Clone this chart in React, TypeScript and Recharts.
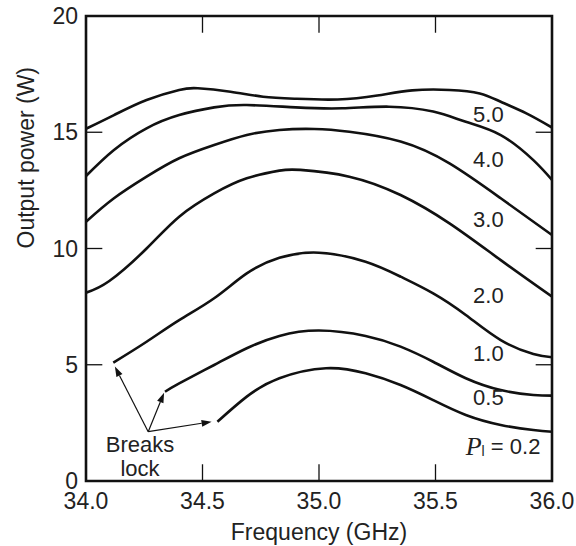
import React from 'react'
import { LineChart, Line, XAxis, YAxis, ReferenceArea, ReferenceLine, ReferenceDot } from 'recharts'

document.body.style.margin = '0'

const font = '"Liberation Sans", Arial, Helvetica, sans-serif'
const ink = '#111'

const freqTicks = [34.0, 34.5, 35.0, 35.5, 36.0]
const powerTicks = [0, 5, 10, 15, 20]

// curves, one per drive level P_l
const f50 = [34.0, 34.12, 34.26, 34.4, 34.48, 34.62, 34.76, 34.9, 35.08, 35.25, 35.4, 35.56, 35.69, 35.78, 35.89, 36.0]
const p50 = [15.15, 15.74, 16.39, 16.82, 16.89, 16.74, 16.53, 16.44, 16.41, 16.58, 16.8, 16.82, 16.67, 16.31, 15.81, 15.2]

const f40 = [34.0, 34.12, 34.26, 34.4, 34.55, 34.69, 34.9, 35.1, 35.3, 35.49, 35.63, 35.78, 35.92, 36.0]
const p40 = [13.12, 14.24, 15.17, 15.74, 16.07, 16.17, 16.07, 16.03, 16.1, 15.89, 15.45, 14.88, 13.8, 12.95]

const f30 = [34.0, 34.12, 34.26, 34.4, 34.55, 34.69, 34.83, 34.98, 35.13, 35.35, 35.56, 35.78, 36.0]
const p30 = [11.15, 12.16, 13.09, 13.88, 14.45, 14.88, 15.1, 15.14, 15.02, 14.6, 13.66, 12.16, 10.58]

const f20 = [34.0, 34.1, 34.26, 34.4, 34.55, 34.69, 34.83, 34.92, 35.13, 35.35, 35.56, 35.78, 36.0]
const p20 = [8.1, 8.6, 10.0, 11.37, 12.37, 13.02, 13.35, 13.38, 13.09, 12.3, 11.08, 9.5, 7.93]

const f10 = [34.117, 34.26, 34.4, 34.55, 34.69, 34.83, 35.0, 35.2, 35.35, 35.49, 35.63, 35.78, 35.92, 36.0]
const p10 = [5.09, 5.99, 6.92, 7.86, 8.93, 9.6, 9.82, 9.43, 8.79, 8.07, 7.14, 6.06, 5.46, 5.32]

const f05 = [34.339, 34.4, 34.55, 34.69, 34.83, 35.0, 35.2, 35.35, 35.49, 35.63, 35.78, 35.92, 36.0]
const p05 = [3.84, 4.2, 4.99, 5.71, 6.24, 6.47, 6.24, 5.78, 5.13, 4.42, 3.91, 3.7, 3.67]

const f02 = [34.564, 34.69, 34.83, 35.03, 35.2, 35.35, 35.49, 35.63, 35.78, 35.92, 36.0]
const p02 = [2.55, 3.63, 4.42, 4.85, 4.63, 4.13, 3.48, 2.84, 2.41, 2.19, 2.12]

const curveX = [f50, f40, f30, f20, f10, f05, f02]
const curveY = [p50, p40, p30, p20, p10, p05, p02]

// labels sitting under each curve at the right
const levelNames = ['5.0', '4.0', '3.0', '2.0', '1.0', '0.5']
const levelX = [35.727, 35.727, 35.727, 35.727, 35.727, 35.727]
const levelY = [15.76, 13.83, 11.25, 7.98, 5.48, 3.59]

// "Breaks lock" arrows
const arrowFrom = { f: 34.267, p: 2.12 }
const arrowTipF = [34.124, 34.335, 34.539]
const arrowTipP = [4.92, 3.8, 2.55]

const toRows = (xs: number[], ys: number[]) => xs.map((f, i) => ({ f, p: ys[i] }))

const Arrow = (props: any) => {
  const { x1, y1, x2, y2 } = props
  const ang = Math.atan2(y2 - y1, x2 - x1)
  const L = 10
  const W = 3.4
  const bx = x2 - L * Math.cos(ang)
  const by = y2 - L * Math.sin(ang)
  const px = -Math.sin(ang) * W
  const py = Math.cos(ang) * W
  return (
    <g>
      <line x1={x1} y1={y1} x2={bx} y2={by} stroke={ink} strokeWidth={1.2} />
      <polygon points={`${x2},${y2} ${bx + px},${by + py} ${bx - px},${by - py}`} fill={ink} />
    </g>
  )
}

const textShape = (txt: string, size = 22) => (props: any) => (
  <text x={props.cx} y={props.cy} textAnchor="middle" dominantBaseline="central"
    fontFamily={font} fontSize={size} fill="#222">{txt}</text>
)

const PlShape = (props: any) => (
  <text x={props.cx} y={props.cy} textAnchor="middle" dominantBaseline="central" fontFamily={font} fontSize={22} fill="#222">
    <tspan fontFamily='"Liberation Serif", "Times New Roman", serif' fontStyle="italic" fontSize={26}>P</tspan>
    <tspan fontSize={14} dy={5}>l</tspan>
    <tspan dy={-5}> = 0.2</tspan>
  </text>
)

export default function App() {
  return (
    <LineChart width={576} height={546} margin={{ top: 16, right: 24, bottom: 0, left: 0 }}>
      <XAxis dataKey="f" type="number" domain={[34, 36]} ticks={freqTicks} allowDataOverflow
        tickFormatter={(v: number) => v.toFixed(1)} axisLine={false} tickLine={false} tickSize={0} tickMargin={12}
        height={65} tick={{ fontSize: 23, fill: '#222', fontFamily: font }}
        label={{ value: 'Frequency (GHz)', position: 'insideBottom', offset: 6, fontSize: 23, fill: '#222', fontFamily: font }} />
      <YAxis type="number" domain={[0, 20]} ticks={powerTicks} allowDataOverflow
        axisLine={false} tickLine={false} tickSize={0} tickMargin={8} width={86}
        tick={{ fontSize: 23, fill: '#222', fontFamily: font }}
        label={{ value: 'Output power (W)', angle: -90, position: 'insideLeft', offset: 26, fontSize: 23, fill: '#222', fontFamily: font }} />

      {[34.5, 35.0, 35.5].map(f => (
        <ReferenceLine key={'b' + f} segment={[{ x: f, y: 0 }, { x: f, y: 0.72 }]} stroke={ink} strokeWidth={1.3} />
      ))}
      {[34.5, 35.0, 35.5].map(f => (
        <ReferenceLine key={'t' + f} segment={[{ x: f, y: 20 }, { x: f, y: 19.28 }]} stroke={ink} strokeWidth={1.3} />
      ))}
      {[5, 10, 15].map(p => (
        <ReferenceLine key={'l' + p} segment={[{ x: 34, y: p }, { x: 34.07, y: p }]} stroke={ink} strokeWidth={1.3} />
      ))}
      {[5, 10, 15].map(p => (
        <ReferenceLine key={'r' + p} segment={[{ x: 36, y: p }, { x: 35.93, y: p }]} stroke={ink} strokeWidth={1.3} />
      ))}

      {curveX.map((xs, i) => (
        <Line key={i} data={toRows(xs, curveY[i])} dataKey="p" type="natural" stroke={ink} strokeWidth={2.6}
          dot={false} activeDot={false} isAnimationActive={false} />
      ))}

      {arrowTipF.map((f, i) => (
        <ReferenceLine key={'a' + i} segment={[{ x: arrowFrom.f, y: arrowFrom.p }, { x: f, y: arrowTipP[i] }]} shape={Arrow} />
      ))}

      {levelNames.map((n, i) => (
        <ReferenceDot key={n} x={levelX[i]} y={levelY[i]} r={0} shape={textShape(n)} />
      ))}
      <ReferenceDot x={35.79} y={1.5} r={0} shape={PlShape} />
      <ReferenceDot x={34.232} y={1.55} r={0} shape={textShape('Breaks')} />
      <ReferenceDot x={34.232} y={0.52} r={0} shape={textShape('lock')} />

      <ReferenceArea x1={34} x2={36} y1={0} y2={20} fill="none" stroke={ink} strokeWidth={2.6} />
    </LineChart>
  )
}
